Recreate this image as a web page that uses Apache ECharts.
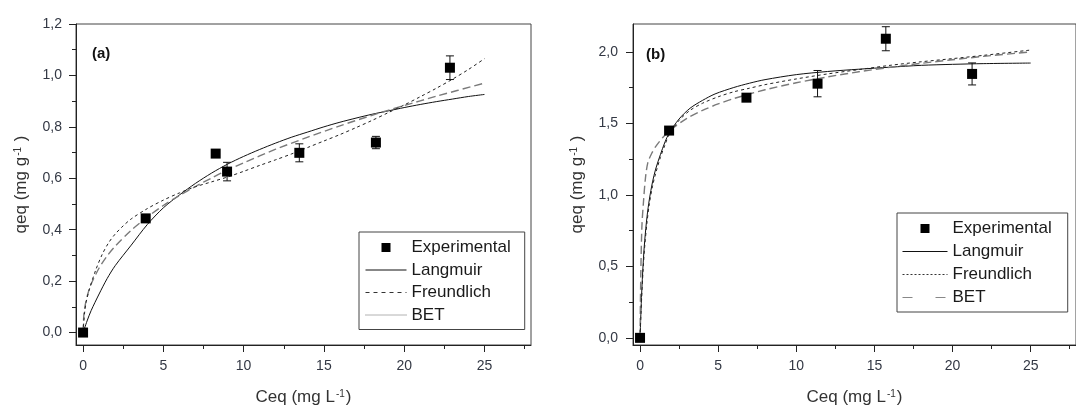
<!DOCTYPE html>
<html>
<head>
<meta charset="utf-8">
<script src="https://cdn.jsdelivr.net/npm/echarts@6/dist/echarts.min.js"></script>
<style>
html,body{margin:0;padding:0;background:#fff;}
#c{width:1076px;height:411px;}
</style>
</head>
<body>
<div id="c"></div>
<script>
// ---------- Panel (a) data ----------
const aExpC = [0, 3.9, 8.26, 8.97, 13.47, 18.24, 22.85];
const aExpQ = [0, 0.444, 0.696, 0.626, 0.699, 0.739, 1.03];
const aExpErr = [0, 0.01, 0.01, 0.036, 0.035, 0.024, 0.046];

const aLangC = [0,0.25,0.5,1,1.5,2,3,4,5,6,7,8,9,10,11,12,13,14,15,16,17,18,19,20,21,22,23,24,25];
const aLangQ = [0,0.045,0.085,0.15,0.21,0.26,0.34,0.42,0.485,0.535,0.58,0.62,0.655,0.685,0.712,0.737,0.76,0.78,0.8,0.818,0.834,0.849,0.862,0.875,0.887,0.898,0.908,0.918,0.926];

const aFreC = [0,0.05,0.1,0.25,0.5,1,1.5,2,3,4,5,6,7,8,9,10,12,14,16,18,20,22,25];
const aFreQ = [0,0.071,0.095,0.14,0.188,0.251,0.298,0.336,0.398,0.449,0.494,0.533,0.568,0.601,0.632,0.66,0.713,0.76,0.804,0.845,0.883,0.919,0.97];

const aBetC = [0,0.1,0.2,0.4,0.8,1.2,1.6,2,2.5,3,4,5,6,7,8,9,10,11,12,13,14,15,16,17,18,19,20,21,22,23,24,25];
const aBetQ = [0,0.08,0.12,0.17,0.245,0.305,0.35,0.383,0.415,0.442,0.482,0.515,0.543,0.567,0.586,0.605,0.627,0.65,0.672,0.695,0.72,0.745,0.77,0.797,0.825,0.855,0.885,0.917,0.95,0.985,1.023,1.065];

const aXTicks = [0,5,10,15,20,25];
const aXMinor = [2.5,7.5,12.5,17.5,22.5,27.5];
const aYTicks = [0,0.2,0.4,0.6,0.8,1.0,1.2];
const aYMinor = [0.1,0.3,0.5,0.7,0.9,1.1];

// ---------- Panel (b) data ----------
const bExpC = [0, 1.86, 6.81, 11.36, 15.73, 21.25];
const bExpQ = [0, 1.449, 1.679, 1.777, 2.091, 1.845];
const bExpErr = [0, 0.02, 0.02, 0.092, 0.084, 0.077];

const bLangC = [0,0.1,0.2,0.3,0.45,0.6,0.8,1,1.3,1.6,1.86,2.5,3.2,4,4.8,6,7,8,10,12,14,16,18,20,22,25];
const bLangQ = [0,0.3,0.52,0.68,0.85,0.97,1.09,1.18,1.28,1.37,1.43,1.53,1.605,1.66,1.705,1.75,1.78,1.805,1.84,1.862,1.878,1.892,1.905,1.912,1.917,1.921];

const bFreC = [0,0.05,0.12,0.22,0.35,0.5,0.75,1,1.5,2,3,4,5,6,8,10,12,14,16,18,20,22,25];
const bFreQ = [0,0.45,0.78,0.95,1.12,1.225,1.29,1.337,1.406,1.458,1.534,1.59,1.635,1.673,1.734,1.783,1.824,1.86,1.891,1.919,1.944,1.968,1.999];

const bBetC = [0,0.1,0.2,0.3,0.45,0.6,0.8,1,1.3,1.6,1.86,2.5,3.2,4,5,6,7,8,10,12,14,16,18,20,22,25];
const bBetQ = [0,0.27,0.48,0.64,0.81,0.94,1.06,1.15,1.26,1.35,1.42,1.52,1.59,1.64,1.685,1.72,1.745,1.77,1.81,1.845,1.875,1.905,1.93,1.952,1.975,2.012];

const bXTicks = [0,5,10,15,20,25];
const bXMinor = [2.5,7.5,12.5,17.5,22.5,27.5];
const bYTicks = [0,0.5,1.0,1.5,2.0];
const bYMinor = [0.25,0.75,1.25,1.75];

const seriesNames = ['Experimental','Langmuir','Freundlich','BET'];

// ---------- helpers ----------
const FONT = 'Liberation Sans, Arial, Helvetica, sans-serif';
const LABEL_COLOR = '#333844';
const AXIS_COLOR = '#222';
const zip = (xs, ys) => xs.map((x, i) => [x, ys[i]]);
const fmtY = v => v.toFixed(1).replace('.', ',');

function mainAxis(dim, grid, min, max, ticks, margin, name, nameGap) {
  return {
    type: 'value', gridIndex: grid, min: min, max: max,
    position: dim === 'x' ? 'bottom' : 'left',
    axisLine: { show: true, onZero: false, lineStyle: { color: AXIS_COLOR, width: 1 } },
    axisTick: { show: true, inside: false, length: 7, customValues: ticks, lineStyle: { color: AXIS_COLOR } },
    axisLabel: {
      show: true, customValues: ticks, margin: margin,
      formatter: v => dim === 'x' ? String(Math.round(v)) : fmtY(v),
      color: LABEL_COLOR, fontSize: 14, fontFamily: FONT
    },
    splitLine: { show: false },
    name: name, nameLocation: 'middle', nameGap: nameGap,
    nameRotate: dim === 'y' ? 90 : 0,
    nameTextStyle: {
      fontFamily: FONT, color: '#333',
      rich: {
        n: { fontSize: 17, fontFamily: FONT, color: '#333', verticalAlign: 'bottom' },
        s: { fontSize: 10, fontFamily: FONT, color: '#333', verticalAlign: 'top', padding: [0, 1, 0, 1] }
      }
    }
  };
}
function minorAxis(dim, grid, min, max, ticks) {
  return {
    type: 'value', gridIndex: grid, min: min, max: max,
    position: dim === 'x' ? 'bottom' : 'left',
    axisLine: { show: false, onZero: false },
    axisTick: { show: true, inside: false, length: 4, customValues: ticks, lineStyle: { color: AXIS_COLOR } },
    axisLabel: { show: false },
    splitLine: { show: false }
  };
}

function errRender(params, api) {
  const x = api.value(0), y = api.value(1), e = api.value(2);
  const t = api.coord([x, y + e]), b = api.coord([x, y - e]);
  const w = 4;
  const st = { stroke: '#111', lineWidth: 1 };
  return {
    type: 'group',
    children: [
      { type: 'line', shape: { x1: t[0], y1: t[1], x2: b[0], y2: b[1] }, style: st },
      { type: 'line', shape: { x1: t[0] - w, y1: t[1], x2: t[0] + w, y2: t[1] }, style: st },
      { type: 'line', shape: { x1: b[0] - w, y1: b[1], x2: b[0] + w, y2: b[1] }, style: st }
    ]
  };
}

function panelSeries(p, xi, yi, expC, expQ, expErr, lC, lQ, fC, fQ, bC, bQ) {
  return [
    {
      name: 'err' + p, type: 'custom', xAxisIndex: xi, yAxisIndex: yi,
      renderItem: errRender, data: expC.map((c, i) => [c, expQ[i], expErr[i]]),
      z: 3, silent: true
    },
    {
      name: 'Langmuir', type: 'line', xAxisIndex: xi, yAxisIndex: yi,
      data: zip(lC, lQ), symbol: 'none', smooth: 0.3,
      itemStyle: { color: '#111' },
      lineStyle: { color: '#111', width: 1, type: 'solid' }, z: 2
    },
    {
      name: 'Freundlich', type: 'line', xAxisIndex: xi, yAxisIndex: yi,
      data: zip(fC, fQ), symbol: 'none', smooth: 0.3,
      itemStyle: { color: '#7a7a7a' },
      lineStyle: { color: '#7a7a7a', width: 1.4, type: [8, 4] }, z: 2
    },
    {
      name: 'BET', type: 'line', xAxisIndex: xi, yAxisIndex: yi,
      data: zip(bC, bQ), symbol: 'none', smooth: 0.3,
      itemStyle: { color: '#222' },
      lineStyle: { color: '#222', width: 1, type: [3, 3] }, z: 2
    },
    {
      name: 'Experimental', type: 'scatter', xAxisIndex: xi, yAxisIndex: yi,
      data: zip(expC, expQ), symbol: 'rect', symbolSize: 10,
      itemStyle: { color: '#000', opacity: 1 }, z: 5
    }
  ];
}

const sqIcon = 'path://M0,0M41,14M16,2.5h9v9h-9z';
const sqIconB = 'path://M0,0M45,14M18,2.5h9v9h-9z';
const noSym = { color: 'rgba(0,0,0,0)', opacity: 0, borderWidth: 0 };

const nameX = '{n|Ceq (mg L}{s|-1}{n|)}';
const nameY = '{n|qeq (mg g}{s|-1}{n| )}';

const option = {
  animation: false,
  backgroundColor: '#fff',
  grid: [
    { left: 76, top: 24, width: 455, height: 328, show: true, borderColor: '#444', borderWidth: 1, backgroundColor: 'transparent' },
    { left: 633, top: 24, width: 463, height: 327, show: true, borderColor: '#444', borderWidth: 1, backgroundColor: 'transparent' }
  ],
  xAxis: [
    mainAxis('x', 0, -0.44, 27.9, aXTicks, 14, nameX, 44),
    minorAxis('x', 0, -0.44, 27.9, aXMinor),
    mainAxis('x', 1, -0.45, 27.9, bXTicks, 14, nameX, 44),
    minorAxis('x', 1, -0.45, 27.9, bXMinor)
  ],
  yAxis: [
    mainAxis('y', 0, -0.0484, 1.2, aYTicks, 14, nameY, 46),
    minorAxis('y', 0, -0.0484, 1.2, aYMinor),
    mainAxis('y', 1, -0.05, 2.194, bYTicks, 15, nameY, 47),
    minorAxis('y', 1, -0.05, 2.194, bYMinor)
  ],
  legend: [
    {
      orient: 'vertical', left: 359, top: 232, selectedMode: false,
      itemWidth: 41, itemHeight: 14, itemGap: 5.5,
      padding: [7, 14, 6, 6],
      borderColor: '#444', borderWidth: 1, backgroundColor: '#fff',
      textStyle: { fontFamily: FONT, fontSize: 17, color: '#1a1a1a' },
      data: [
        { name: 'Experimental', icon: sqIcon, itemStyle: { color: '#000', opacity: 1 } },
        { name: 'Langmuir', itemStyle: noSym, lineStyle: { color: '#111', width: 1, type: 'solid' } },
        { name: 'Freundlich', itemStyle: noSym, lineStyle: { color: '#333', width: 1, type: [4, 4] } },
        { name: 'BET', itemStyle: noSym, lineStyle: { color: '#666', width: 1, type: [1, 1] } }
      ]
    },
    {
      orient: 'vertical', left: 897, top: 213, selectedMode: false,
      itemWidth: 45, itemHeight: 14, itemGap: 6,
      padding: [7, 16, 6, 5],
      borderColor: '#444', borderWidth: 1, backgroundColor: '#fff',
      textStyle: { fontFamily: FONT, fontSize: 17, color: '#1a1a1a' },
      data: [
        { name: 'Experimental', icon: sqIconB, itemStyle: { color: '#000', opacity: 1 } },
        { name: 'Langmuir', itemStyle: noSym, lineStyle: { color: '#111', width: 1, type: 'solid' } },
        { name: 'Freundlich', itemStyle: noSym, lineStyle: { color: '#333', width: 1, type: [2, 2] } },
        { name: 'BET', itemStyle: noSym, lineStyle: { color: '#888', width: 1, type: [10, 23] } }
      ]
    }
  ],
  graphic: [
    { type: 'text', left: 92, top: 46, style: { text: '(a)', font: 'bold 15px ' + FONT, fill: '#111' } },
    { type: 'text', left: 646, top: 47, style: { text: '(b)', font: 'bold 15px ' + FONT, fill: '#111' } }
  ],
  series: [].concat(
    panelSeries('a', 0, 0, aExpC, aExpQ, aExpErr, aLangC, aLangQ, aFreC, aFreQ, aBetC, aBetQ),
    panelSeries('b', 2, 2, bExpC, bExpQ, bExpErr, bLangC, bLangQ, bFreC, bFreQ, bBetC, bBetQ)
  )
};

const chart = echarts.init(document.getElementById('c'), null, { renderer: 'canvas' });
chart.setOption(option);
</script>
</body>
</html>
